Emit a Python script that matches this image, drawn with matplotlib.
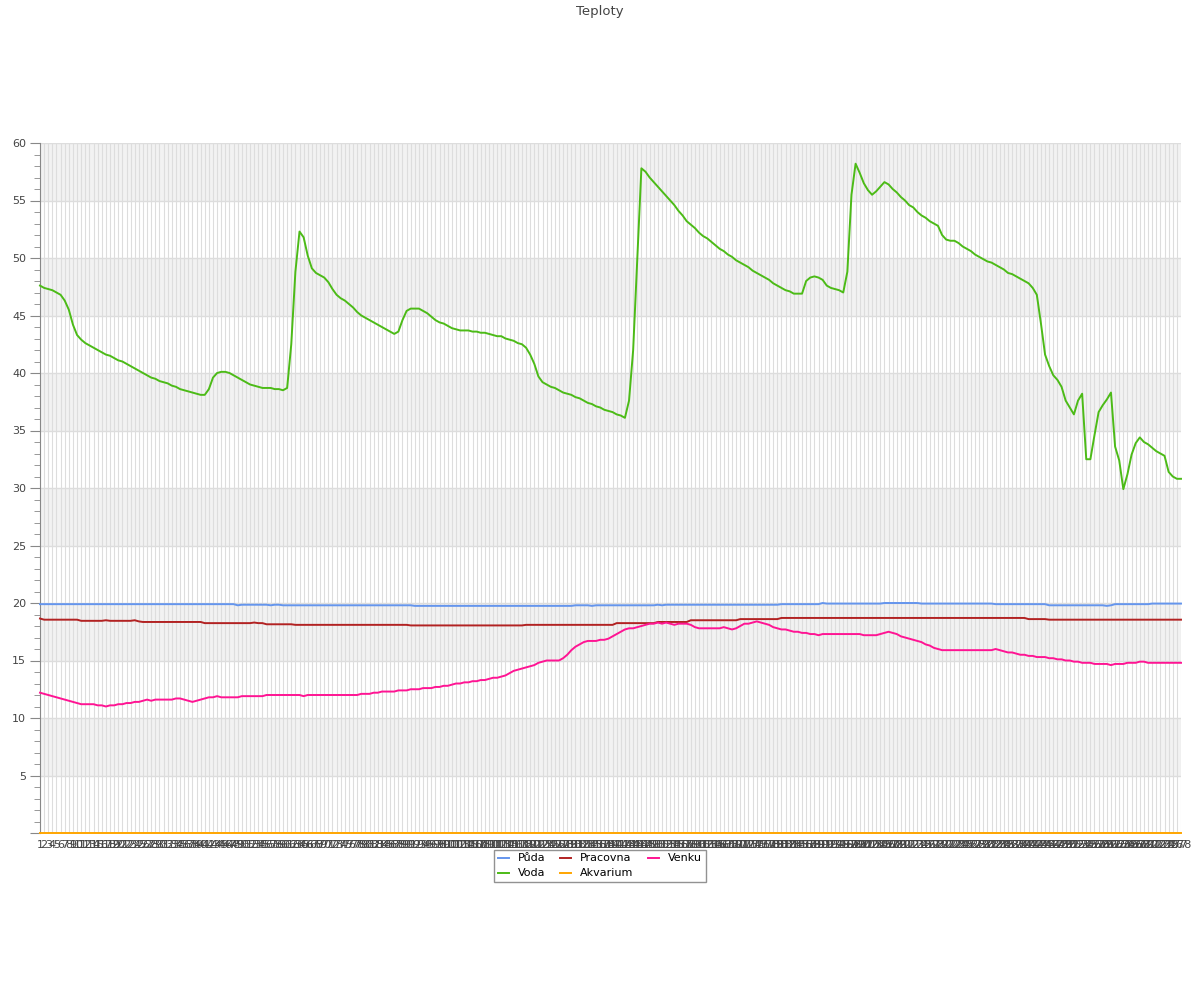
import numpy as np
import matplotlib.pyplot as plt
from matplotlib.ticker import MultipleLocator

# Readings, one value per sample (1..278)
puda = [
    19.9, 19.9, 19.9, 19.9, 19.9, 19.9, 19.9, 19.9, 19.9, 19.9, 19.9, 19.9, 19.9, 19.9, 19.9, 19.9, 19.9, 19.9, 19.9, 19.9,
    19.9, 19.9, 19.9, 19.9, 19.9, 19.9, 19.9, 19.9, 19.9, 19.9, 19.9, 19.9, 19.9, 19.9, 19.9, 19.9, 19.9, 19.9, 19.9, 19.9,
    19.9, 19.9, 19.9, 19.9, 19.9, 19.9, 19.9, 19.9, 19.8, 19.85, 19.85, 19.85, 19.85, 19.85, 19.85, 19.85, 19.8, 19.85, 19.85, 19.8,
    19.8, 19.8, 19.8, 19.8, 19.8, 19.8, 19.8, 19.8, 19.8, 19.8, 19.8, 19.8, 19.8, 19.8, 19.8, 19.8, 19.8, 19.8, 19.8, 19.8,
    19.8, 19.8, 19.8, 19.8, 19.8, 19.8, 19.8, 19.8, 19.8, 19.8, 19.8, 19.75, 19.75, 19.75, 19.75, 19.75, 19.75, 19.75, 19.75, 19.75,
    19.75, 19.75, 19.75, 19.75, 19.75, 19.75, 19.75, 19.75, 19.75, 19.75, 19.75, 19.75, 19.75, 19.75, 19.75, 19.75, 19.75, 19.75, 19.75, 19.75,
    19.75, 19.75, 19.75, 19.75, 19.75, 19.75, 19.75, 19.75, 19.75, 19.75, 19.8, 19.8, 19.8, 19.8, 19.75, 19.8, 19.8, 19.8, 19.8, 19.8,
    19.8, 19.8, 19.8, 19.8, 19.8, 19.8, 19.8, 19.8, 19.8, 19.8, 19.85, 19.8, 19.85, 19.85, 19.85, 19.85, 19.85, 19.85, 19.85, 19.85,
    19.85, 19.85, 19.85, 19.85, 19.85, 19.85, 19.85, 19.85, 19.85, 19.85, 19.85, 19.85, 19.85, 19.85, 19.85, 19.85, 19.85, 19.85, 19.85, 19.85,
    19.9, 19.9, 19.9, 19.9, 19.9, 19.9, 19.9, 19.9, 19.9, 19.9, 20.0, 19.95, 19.95, 19.95, 19.95, 19.95, 19.95, 19.95, 19.95, 19.95,
    19.95, 19.95, 19.95, 19.95, 19.95, 20.0, 20.0, 20.0, 20.0, 20.0, 20.0, 20.0, 20.0, 20.0, 19.95, 19.95, 19.95, 19.95, 19.95, 19.95,
    19.95, 19.95, 19.95, 19.95, 19.95, 19.95, 19.95, 19.95, 19.95, 19.95, 19.95, 19.95, 19.9, 19.9, 19.9, 19.9, 19.9, 19.9, 19.9, 19.9,
    19.9, 19.9, 19.9, 19.9, 19.9, 19.8, 19.8, 19.8, 19.8, 19.8, 19.8, 19.8, 19.8, 19.8, 19.8, 19.8, 19.8, 19.8, 19.8, 19.75,
    19.8, 19.9, 19.9, 19.9, 19.9, 19.9, 19.9, 19.9, 19.9, 19.9, 19.95, 19.95, 19.95, 19.95, 19.95, 19.95, 19.95, 19.95,
]

voda = [
    47.6, 47.4, 47.3, 47.2, 47.0, 46.8, 46.3, 45.5, 44.2, 43.3, 42.9, 42.6, 42.4, 42.2, 42.0, 41.8, 41.6, 41.5, 41.3, 41.1,
    41.0, 40.8, 40.6, 40.4, 40.2, 40.0, 39.8, 39.6, 39.5, 39.3, 39.2, 39.1, 38.9, 38.8, 38.6, 38.5, 38.4, 38.3, 38.2, 38.1,
    38.1, 38.6, 39.6, 40.0, 40.1, 40.1, 40.0, 39.8, 39.6, 39.4, 39.2, 39.0, 38.9, 38.8, 38.7, 38.7, 38.7, 38.6, 38.6, 38.5,
    38.7, 42.5, 48.8, 52.3, 51.8, 50.2, 49.1, 48.7, 48.5, 48.3, 47.9, 47.3, 46.8, 46.5, 46.3, 46.0, 45.7, 45.3, 45.0, 44.8,
    44.6, 44.4, 44.2, 44.0, 43.8, 43.6, 43.4, 43.6, 44.6, 45.4, 45.6, 45.6, 45.6, 45.4, 45.2, 44.9, 44.6, 44.4, 44.3, 44.1,
    43.9, 43.8, 43.7, 43.7, 43.7, 43.6, 43.6, 43.5, 43.5, 43.4, 43.3, 43.2, 43.2, 43.0, 42.9, 42.8, 42.6, 42.5, 42.2, 41.6,
    40.8, 39.7, 39.2, 39.0, 38.8, 38.7, 38.5, 38.3, 38.2, 38.1, 37.9, 37.8, 37.6, 37.4, 37.3, 37.1, 37.0, 36.8, 36.7, 36.6,
    36.4, 36.3, 36.1, 37.6, 42.0, 50.0, 57.8, 57.5, 57.0, 56.6, 56.2, 55.8, 55.4, 55.0, 54.6, 54.1, 53.7, 53.2, 52.9, 52.6,
    52.2, 51.9, 51.7, 51.4, 51.1, 50.8, 50.6, 50.3, 50.1, 49.8, 49.6, 49.4, 49.2, 48.9, 48.7, 48.5, 48.3, 48.1, 47.8, 47.6,
    47.4, 47.2, 47.1, 46.9, 46.9, 46.9, 48.0, 48.3, 48.4, 48.3, 48.1, 47.6, 47.4, 47.3, 47.2, 47.0, 48.8, 55.5, 58.2, 57.4,
    56.5, 55.9, 55.5, 55.8, 56.2, 56.6, 56.4, 56.0, 55.7, 55.3, 55.0, 54.6, 54.4, 54.0, 53.7, 53.5, 53.2, 53.0, 52.8, 52.0,
    51.6, 51.5, 51.5, 51.3, 51.0, 50.8, 50.6, 50.3, 50.1, 49.9, 49.7, 49.6, 49.4, 49.2, 49.0, 48.7, 48.6, 48.4, 48.2, 48.0,
    47.8, 47.4, 46.8, 44.3, 41.6, 40.6, 39.8, 39.4, 38.8, 37.6, 37.0, 36.4, 37.6, 38.2, 32.5, 32.5, 34.6, 36.6, 37.2, 37.7,
    38.3, 33.6, 32.4, 29.9, 31.2, 32.9, 33.9, 34.4, 34.0, 33.8, 33.5, 33.2, 33.0, 32.8, 31.4, 31.0, 30.8, 30.8,
]

pracovna = [
    18.65, 18.55, 18.55, 18.55, 18.55, 18.55, 18.55, 18.55, 18.55, 18.55, 18.45, 18.45, 18.45, 18.45, 18.45, 18.45, 18.5, 18.45, 18.45, 18.45,
    18.45, 18.45, 18.45, 18.5, 18.4, 18.35, 18.35, 18.35, 18.35, 18.35, 18.35, 18.35, 18.35, 18.35, 18.35, 18.35, 18.35, 18.35, 18.35, 18.35,
    18.25, 18.25, 18.25, 18.25, 18.25, 18.25, 18.25, 18.25, 18.25, 18.25, 18.25, 18.25, 18.3, 18.25, 18.25, 18.15, 18.15, 18.15, 18.15, 18.15,
    18.15, 18.15, 18.1, 18.1, 18.1, 18.1, 18.1, 18.1, 18.1, 18.1, 18.1, 18.1, 18.1, 18.1, 18.1, 18.1, 18.1, 18.1, 18.1, 18.1,
    18.1, 18.1, 18.1, 18.1, 18.1, 18.1, 18.1, 18.1, 18.1, 18.1, 18.05, 18.05, 18.05, 18.05, 18.05, 18.05, 18.05, 18.05, 18.05, 18.05,
    18.05, 18.05, 18.05, 18.05, 18.05, 18.05, 18.05, 18.05, 18.05, 18.05, 18.05, 18.05, 18.05, 18.05, 18.05, 18.05, 18.05, 18.05, 18.1, 18.1,
    18.1, 18.1, 18.1, 18.1, 18.1, 18.1, 18.1, 18.1, 18.1, 18.1, 18.1, 18.1, 18.1, 18.1, 18.1, 18.1, 18.1, 18.1, 18.1, 18.1,
    18.25, 18.25, 18.25, 18.25, 18.25, 18.25, 18.25, 18.25, 18.25, 18.25, 18.35, 18.35, 18.35, 18.35, 18.35, 18.35, 18.35, 18.35, 18.5, 18.5,
    18.5, 18.5, 18.5, 18.5, 18.5, 18.5, 18.5, 18.5, 18.5, 18.5, 18.6, 18.6, 18.6, 18.6, 18.6, 18.6, 18.6, 18.6, 18.6, 18.6,
    18.7, 18.7, 18.7, 18.7, 18.7, 18.7, 18.7, 18.7, 18.7, 18.7, 18.7, 18.7, 18.7, 18.7, 18.7, 18.7, 18.7, 18.7, 18.7, 18.7,
    18.7, 18.7, 18.7, 18.7, 18.7, 18.7, 18.7, 18.7, 18.7, 18.7, 18.7, 18.7, 18.7, 18.7, 18.7, 18.7, 18.7, 18.7, 18.7, 18.7,
    18.7, 18.7, 18.7, 18.7, 18.7, 18.7, 18.7, 18.7, 18.7, 18.7, 18.7, 18.7, 18.7, 18.7, 18.7, 18.7, 18.7, 18.7, 18.7, 18.7,
    18.6, 18.6, 18.6, 18.6, 18.6, 18.55, 18.55, 18.55, 18.55, 18.55, 18.55, 18.55, 18.55, 18.55, 18.55, 18.55, 18.55, 18.55, 18.55, 18.55,
    18.55, 18.55, 18.55, 18.55, 18.55, 18.55, 18.55, 18.55, 18.55, 18.55, 18.55, 18.55, 18.55, 18.55, 18.55, 18.55, 18.55, 18.55,
]

akvarium = [
    0.0, 0.0, 0.0, 0.0, 0.0, 0.0, 0.0, 0.0, 0.0, 0.0, 0.0, 0.0, 0.0, 0.0, 0.0, 0.0, 0.0, 0.0, 0.0, 0.0,
    0.0, 0.0, 0.0, 0.0, 0.0, 0.0, 0.0, 0.0, 0.0, 0.0, 0.0, 0.0, 0.0, 0.0, 0.0, 0.0, 0.0, 0.0, 0.0, 0.0,
    0.0, 0.0, 0.0, 0.0, 0.0, 0.0, 0.0, 0.0, 0.0, 0.0, 0.0, 0.0, 0.0, 0.0, 0.0, 0.0, 0.0, 0.0, 0.0, 0.0,
    0.0, 0.0, 0.0, 0.0, 0.0, 0.0, 0.0, 0.0, 0.0, 0.0, 0.0, 0.0, 0.0, 0.0, 0.0, 0.0, 0.0, 0.0, 0.0, 0.0,
    0.0, 0.0, 0.0, 0.0, 0.0, 0.0, 0.0, 0.0, 0.0, 0.0, 0.0, 0.0, 0.0, 0.0, 0.0, 0.0, 0.0, 0.0, 0.0, 0.0,
    0.0, 0.0, 0.0, 0.0, 0.0, 0.0, 0.0, 0.0, 0.0, 0.0, 0.0, 0.0, 0.0, 0.0, 0.0, 0.0, 0.0, 0.0, 0.0, 0.0,
    0.0, 0.0, 0.0, 0.0, 0.0, 0.0, 0.0, 0.0, 0.0, 0.0, 0.0, 0.0, 0.0, 0.0, 0.0, 0.0, 0.0, 0.0, 0.0, 0.0,
    0.0, 0.0, 0.0, 0.0, 0.0, 0.0, 0.0, 0.0, 0.0, 0.0, 0.0, 0.0, 0.0, 0.0, 0.0, 0.0, 0.0, 0.0, 0.0, 0.0,
    0.0, 0.0, 0.0, 0.0, 0.0, 0.0, 0.0, 0.0, 0.0, 0.0, 0.0, 0.0, 0.0, 0.0, 0.0, 0.0, 0.0, 0.0, 0.0, 0.0,
    0.0, 0.0, 0.0, 0.0, 0.0, 0.0, 0.0, 0.0, 0.0, 0.0, 0.0, 0.0, 0.0, 0.0, 0.0, 0.0, 0.0, 0.0, 0.0, 0.0,
    0.0, 0.0, 0.0, 0.0, 0.0, 0.0, 0.0, 0.0, 0.0, 0.0, 0.0, 0.0, 0.0, 0.0, 0.0, 0.0, 0.0, 0.0, 0.0, 0.0,
    0.0, 0.0, 0.0, 0.0, 0.0, 0.0, 0.0, 0.0, 0.0, 0.0, 0.0, 0.0, 0.0, 0.0, 0.0, 0.0, 0.0, 0.0, 0.0, 0.0,
    0.0, 0.0, 0.0, 0.0, 0.0, 0.0, 0.0, 0.0, 0.0, 0.0, 0.0, 0.0, 0.0, 0.0, 0.0, 0.0, 0.0, 0.0, 0.0, 0.0,
    0.0, 0.0, 0.0, 0.0, 0.0, 0.0, 0.0, 0.0, 0.0, 0.0, 0.0, 0.0, 0.0, 0.0, 0.0, 0.0, 0.0, 0.0,
]

venku = [
    12.2, 12.1, 12.0, 11.9, 11.8, 11.7, 11.6, 11.5, 11.4, 11.3, 11.2, 11.2, 11.2, 11.2, 11.1, 11.1, 11.0, 11.1, 11.1, 11.2,
    11.2, 11.3, 11.3, 11.4, 11.4, 11.5, 11.6, 11.5, 11.6, 11.6, 11.6, 11.6, 11.6, 11.7, 11.7, 11.6, 11.5, 11.4, 11.5, 11.6,
    11.7, 11.8, 11.8, 11.9, 11.8, 11.8, 11.8, 11.8, 11.8, 11.9, 11.9, 11.9, 11.9, 11.9, 11.9, 12.0, 12.0, 12.0, 12.0, 12.0,
    12.0, 12.0, 12.0, 12.0, 11.9, 12.0, 12.0, 12.0, 12.0, 12.0, 12.0, 12.0, 12.0, 12.0, 12.0, 12.0, 12.0, 12.0, 12.1, 12.1,
    12.1, 12.2, 12.2, 12.3, 12.3, 12.3, 12.3, 12.4, 12.4, 12.4, 12.5, 12.5, 12.5, 12.6, 12.6, 12.6, 12.7, 12.7, 12.8, 12.8,
    12.9, 13.0, 13.0, 13.1, 13.1, 13.2, 13.2, 13.3, 13.3, 13.4, 13.5, 13.5, 13.6, 13.7, 13.9, 14.1, 14.2, 14.3, 14.4, 14.5,
    14.6, 14.8, 14.9, 15.0, 15.0, 15.0, 15.0, 15.2, 15.5, 15.9, 16.2, 16.4, 16.6, 16.7, 16.7, 16.7, 16.8, 16.8, 16.9, 17.1,
    17.3, 17.5, 17.7, 17.8, 17.8, 17.9, 18.0, 18.1, 18.2, 18.2, 18.3, 18.2, 18.3, 18.2, 18.1, 18.2, 18.2, 18.2, 18.1, 17.9,
    17.8, 17.8, 17.8, 17.8, 17.8, 17.8, 17.9, 17.8, 17.7, 17.8, 18.0, 18.2, 18.2, 18.3, 18.4, 18.3, 18.2, 18.1, 17.9, 17.8,
    17.7, 17.7, 17.6, 17.5, 17.5, 17.4, 17.4, 17.3, 17.3, 17.2, 17.3, 17.3, 17.3, 17.3, 17.3, 17.3, 17.3, 17.3, 17.3, 17.3,
    17.2, 17.2, 17.2, 17.2, 17.3, 17.4, 17.5, 17.4, 17.3, 17.1, 17.0, 16.9, 16.8, 16.7, 16.6, 16.4, 16.3, 16.1, 16.0, 15.9,
    15.9, 15.9, 15.9, 15.9, 15.9, 15.9, 15.9, 15.9, 15.9, 15.9, 15.9, 15.9, 16.0, 15.9, 15.8, 15.7, 15.7, 15.6, 15.5, 15.5,
    15.4, 15.4, 15.3, 15.3, 15.3, 15.2, 15.2, 15.1, 15.1, 15.0, 15.0, 14.9, 14.9, 14.8, 14.8, 14.8, 14.7, 14.7, 14.7, 14.7,
    14.6, 14.7, 14.7, 14.7, 14.8, 14.8, 14.8, 14.9, 14.9, 14.8, 14.8, 14.8, 14.8, 14.8, 14.8, 14.8, 14.8, 14.8,
]

series_names = ['Půda', 'Voda', 'Pracovna', 'Akvarium', 'Venku']
series_colors = ['#6495ed', '#4cbb17', '#b22222', '#ffa500', '#ff1493']
x_labels = [str(i) for i in range(1, len(voda) + 1)]

for s in (puda, pracovna, akvarium, venku):
    if len(s) != len(voda):
        raise ValueError('length mismatch %d vs %d' % (len(s), len(voda)))

fig = plt.figure(figsize=(12, 10), dpi=100)
ax = fig.add_axes([40 / 1200, 1 - 833 / 1000, 1141 / 1200, 690 / 1000])

x = np.arange(len(voda))

# alternating bands
for lo in range(5, 60, 10):
    ax.axhspan(lo, lo + 5, color='#f2f2f2', lw=0, zorder=0)

for name, color, vals in zip(series_names, series_colors,
                             [puda, voda, pracovna, akvarium, venku]):
    ax.plot(x, vals, color=color, lw=1.4, label=name, zorder=3,
            clip_on=False, solid_joinstyle='round')

ax.set_xlim(0, len(voda) - 1)
ax.set_ylim(0, 60)

ax.set_xticks(x)
ax.set_xticklabels(x_labels, fontsize=8, color='#444')
ax.tick_params(axis='x', length=0, pad=5)

ax.set_yticks(range(0, 61, 5))
ax.set_yticklabels([''] + [str(v) for v in range(5, 61, 5)], fontsize=8, color='#444')
ax.yaxis.set_minor_locator(MultipleLocator(1))
ax.tick_params(axis='y', which='major', length=7, color='#888', pad=3)
ax.tick_params(axis='y', which='minor', length=4, color='#888')

ax.grid(axis='x', color='#dddddd', lw=0.8, zorder=1)
ax.grid(axis='y', which='major', color='#dddddd', lw=1.0, zorder=1)
ax.set_axisbelow(True)

for side in ('top', 'right', 'bottom'):
    ax.spines[side].set_visible(False)
ax.spines['left'].set_color('#888')

fig.text(0.5, 0.995, 'Teploty', ha='center', va='top', fontsize=9.5, color='#444')

fig.legend(loc='upper center', bbox_to_anchor=(600 / 1200, 1 - 844 / 1000), ncol=3,
           fontsize=8, frameon=True, fancybox=False, edgecolor='#777',
           handlelength=1.0, handletextpad=0.8, columnspacing=1.3,
           borderpad=0.35, labelspacing=0.45)

fig.savefig('out.png', dpi=100)
